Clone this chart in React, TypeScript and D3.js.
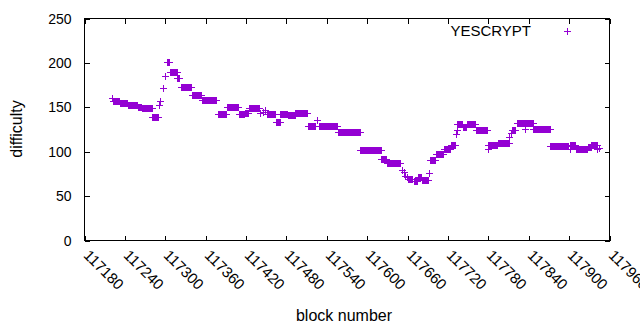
import React, { useEffect, useRef } from "react";
import * as d3 from "d3";

// runs of blocks sharing the same difficulty (first block, last block, value)
const runStart = [
  117221, 117222, 117232, 117244, 117259, 117265, 117281, 117290, 117292, 117297,
  117300, 117302, 117307, 117318, 117323, 117339, 117355, 117378, 117391, 117409,
  117418, 117424, 117441, 117445, 117448, 117451, 117464, 117471, 117482, 117493,
  117512, 117525, 117528, 117556, 117590, 117621, 117629, 117651, 117654, 117656,
  117659, 117661, 117669, 117675, 117681, 117692, 117694, 117702, 117714, 117724,
  117732, 117733, 117734, 117742, 117748, 117761, 117779, 117780, 117795, 117811,
  117814, 117815, 117822, 117834, 117835, 117847, 117872, 117901, 117902, 117910,
  117928, 117933, 117942, 117945,
];
const runEnd = [
  117221, 117231, 117243, 117258, 117264, 117280, 117289, 117290, 117292, 117297,
  117300, 117306, 117317, 117320, 117338, 117353, 117376, 117390, 117408, 117417,
  117423, 117439, 117441, 117445, 117448, 117463, 117470, 117481, 117492, 117511,
  117523, 117525, 117555, 117589, 117620, 117628, 117649, 117651, 117654, 117656,
  117659, 117667, 117674, 117680, 117691, 117692, 117701, 117713, 117723, 117731,
  117732, 117733, 117741, 117747, 117760, 117778, 117779, 117793, 117810, 117811,
  117814, 117820, 117833, 117834, 117846, 117871, 117898, 117901, 117909, 117927,
  117932, 117941, 117942, 117945,
];
const difficulty = [
  161, 157.5, 155, 152.5, 150, 149, 139, 152.5, 157.5, 172,
  185, 201, 189.5, 182.5, 172.5, 164, 158, 142, 150, 142,
  144, 149, 143.5, 144.5, 147.5, 142, 134, 142.5, 141, 143.5,
  128.5, 135.5, 128.5, 122.5, 102, 91.5, 87.5, 79.5, 77, 73,
  71, 69, 66.5, 71.5, 68, 75.5, 91, 97.5, 103, 107.5,
  119.5, 125, 131, 128, 131, 125, 103, 107, 110, 116.5,
  120.5, 125, 132, 125.5, 132, 126, 106, 103, 107.5, 103.5,
  105.5, 107.5, 102.5, 104,
];

const xTickValues = [
  117180, 117240, 117300, 117360, 117420, 117480, 117540, 117600, 117660,
  117720, 117780, 117840, 117900, 117960,
];
const yTickValues = [0, 50, 100, 150, 200, 250];
const seriesName = "YESCRYPT";

const FONT = "'Liberation Sans', Arial, sans-serif";
const PURPLE = "#9400d3";

export default function App() {
  const svgRef = useRef<SVGSVGElement>(null);

  useEffect(() => {
    const svg = d3.select(svgRef.current);
    svg.selectAll("*").remove();

    const left = 84.5, right = 609.5, top = 18.5, bottom = 240.5;

    const x = d3.scaleLinear().domain([117180, 117960]).range([left, right]);
    const y = d3.scaleLinear().domain([0, 250]).range([bottom, top]);

    const g = svg.append("g");

    // frame
    g.append("rect")
      .attr("x", left)
      .attr("y", top)
      .attr("width", right - left)
      .attr("height", bottom - top)
      .attr("fill", "none")
      .attr("stroke", "#000");

    const tickLen = 5;

    // x ticks (bottom + mirrored top), labels rotated like gnuplot's "rotate by -45"
    xTickValues.forEach((t) => {
      const px = Math.round(x(t)) + 0.5;
      g.append("line").attr("x1", px).attr("x2", px).attr("y1", bottom).attr("y2", bottom - tickLen).attr("stroke", "#000");
      g.append("line").attr("x1", px).attr("x2", px).attr("y1", top).attr("y2", top + tickLen).attr("stroke", "#000");
      g.append("text")
        .attr("transform", `translate(${px + 5},${bottom + 8}) rotate(45)`)
        .attr("dy", "0.72em")
        .attr("font-family", FONT)
        .attr("font-size", 15)
        .attr("fill", "#000")
        .text(t);
    });

    // y ticks (left + mirrored right)
    yTickValues.forEach((t) => {
      const py = Math.round(y(t)) + 0.5;
      g.append("line").attr("x1", left).attr("x2", left + tickLen).attr("y1", py).attr("y2", py).attr("stroke", "#000");
      g.append("line").attr("x1", right).attr("x2", right - tickLen).attr("y1", py).attr("y2", py).attr("stroke", "#000");
      g.append("text")
        .attr("x", left - 13)
        .attr("y", py - 1)
        .attr("dy", "0.36em")
        .attr("text-anchor", "end")
        .attr("font-family", FONT)
        .attr("font-size", 14)
        .attr("fill", "#000")
        .text(t);
    });

    // axis titles
    g.append("text")
      .attr("x", 344)
      .attr("y", 321)
      .attr("text-anchor", "middle")
      .attr("font-family", FONT)
      .attr("font-size", 16)
      .text("block number");

    g.append("text")
      .attr("transform", `translate(22,129) rotate(-90)`)
      .attr("text-anchor", "middle")
      .attr("font-family", FONT)
      .attr("font-size", 16)
      .text("difficulty");

    const plusPath = (cx: number, cy: number) => {
      const s = 3.5;
      const X = Math.round(cx) + 0.5, Y = Math.round(cy) + 0.5;
      return `M${X - s},${Y}H${X + s}M${X},${Y - s}V${Y + s}`;
    };

    // points: each run drawn as overlapping "+" markers
    const pts = g.append("g");
    runStart.forEach((s, i) => {
      const e = runEnd[i];
      const v = difficulty[i];
      const x0 = Math.round(x(s)) + 0.5;
      const x1 = Math.round(x(e)) + 0.5;
      const cy = Math.round(y(v)) + 0.5;
      if (x1 > x0) {
        pts.append("rect")
          .attr("x", x0)
          .attr("y", cy - 3.5)
          .attr("width", x1 - x0)
          .attr("height", 7)
          .attr("fill", PURPLE);
      }
      pts.append("path")
        .attr("d", plusPath(x(s), y(v)) + plusPath(x(e), y(v)))
        .attr("fill", "none")
        .attr("stroke", PURPLE)
        .attr("stroke-width", 1);
    });

    // legend
    g.append("text")
      .attr("x", 531)
      .attr("y", 31)
      .attr("dy", "0.36em")
      .attr("text-anchor", "end")
      .attr("font-family", FONT)
      .attr("font-size", 15)
      .attr("fill", "#000")
      .text(seriesName);
    g.append("path")
      .attr("d", plusPath(567, 31))
      .attr("fill", "none")
      .attr("stroke", PURPLE);

    svg.selectAll("line, rect, path").style("shape-rendering", "crispEdges");
  }, []);

  return (
    <svg
      ref={svgRef}
      width={640}
      height={330}
      style={{ position: "absolute", left: 0, top: 0, background: "#fff" }}
    ></svg>
  );
}
